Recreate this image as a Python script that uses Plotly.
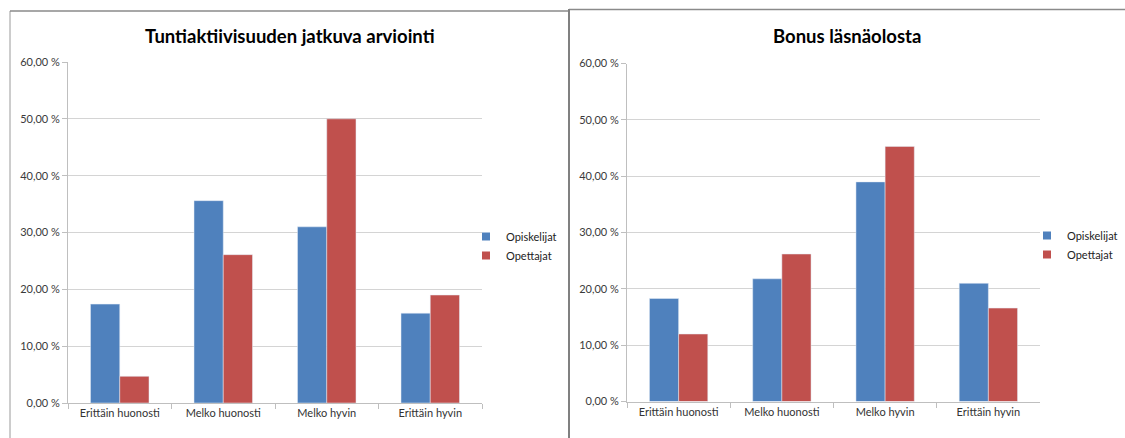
import plotly.graph_objects as go

categories = ["Erittäin huonosti", "Melko huonosti", "Melko hyvin", "Erittäin hyvin"]
series_names = ["Opiskelijat", "Opettajat"]

left_title = "Tuntiaktiivisuuden jatkuva arviointi"
left_opiskelijat = [17.4, 35.6, 31.0, 15.8]
left_opettajat = [4.7, 26.1, 50.0, 19.0]

right_title = "Bonus läsnäolosta"
right_opiskelijat = [18.3, 21.8, 39.0, 21.0]
right_opettajat = [12.0, 26.2, 45.3, 16.6]

tick_values = [0, 10, 20, 30, 40, 50, 60]
tick_labels = ["0,00 %", "10,00 %", "20,00 %", "30,00 %", "40,00 %", "50,00 %", "60,00 %"]

colors = ["#4F81BD", "#C0504D"]
W, H = 1125, 438
FONT = "Lato"

def px(x):
    return x / W

def py(y):
    return 1 - y / H

fig = go.Figure()

# bars (legend entries drawn with small square proxies below)
for i, vals in enumerate([left_opiskelijat, left_opettajat]):
    fig.add_trace(go.Bar(x=categories, y=vals, name=series_names[i], marker_color=colors[i],
                         xaxis="x", yaxis="y", showlegend=False))
for i, vals in enumerate([right_opiskelijat, right_opettajat]):
    fig.add_trace(go.Bar(x=categories, y=vals, name=series_names[i], marker_color=colors[i],
                         xaxis="x2", yaxis="y2", showlegend=False))

# legend proxies
for leg, xa, ya in [("legend", "x", "y"), ("legend2", "x2", "y2")]:
    for i, name in enumerate(series_names):
        fig.add_trace(go.Scatter(x=[None], y=[None], mode="markers", name=name,
                                 marker=dict(symbol="square", size=8, color=colors[i]),
                                 xaxis=xa, yaxis=ya, legend=leg, showlegend=True))

axis_common_x = dict(showgrid=False, showline=True, linecolor="#bfbfbf", linewidth=1,
                     ticks="outside", tickson="boundaries", ticklen=5, tickcolor="#bfbfbf",
                     tickfont=dict(family=FONT, size=11, color="#333333"),
                     fixedrange=True, automargin=False)
axis_common_y = dict(range=[0, 60], tickvals=tick_values, ticktext=tick_labels,
                     showgrid=True, gridcolor="#d4d4d4", gridwidth=1,
                     showline=True, linecolor="#bfbfbf", linewidth=1,
                     ticks="outside", ticklen=5, tickcolor="#bfbfbf",
                     tickfont=dict(family=FONT, size=11, color="#3a3a3a"),
                     zeroline=False, fixedrange=True, automargin=False)

legend_common = dict(font=dict(family=FONT, size=11, color="#222222"),
                     bgcolor="rgba(0,0,0,0)", tracegroupgap=0, itemwidth=30,
                     xanchor="left", yanchor="middle", borderwidth=0)

fig.update_layout(
    width=W, height=H,
    margin=dict(l=0, r=0, t=0, b=0, autoexpand=False),
    paper_bgcolor="white", plot_bgcolor="white",
    barmode="group", bargap=0.435, bargroupgap=0,
    xaxis=dict(domain=[px(68), px(482)], anchor="y", **axis_common_x),
    yaxis=dict(domain=[py(403), py(62)], anchor="x", **axis_common_y),
    xaxis2=dict(domain=[px(627), px(1040)], anchor="y2", **axis_common_x),
    yaxis2=dict(domain=[py(401.6), py(63.6)], anchor="x2", **axis_common_y),
    legend=dict(x=px(466), y=py(246), **legend_common),
    legend2=dict(x=px(1027), y=py(245), **legend_common),
    annotations=[
        dict(text="<b>" + left_title + "</b>", x=px(290), y=py(36), xref="paper", yref="paper",
             showarrow=False, font=dict(family=FONT, size=18.5, color="#000000"),
             xanchor="center", yanchor="middle"),
        dict(text="<b>" + right_title + "</b>", x=px(847), y=py(36), xref="paper", yref="paper",
             showarrow=False, font=dict(family=FONT, size=18.5, color="#000000"),
             xanchor="center", yanchor="middle"),
    ],
    shapes=[
        dict(type="line", xref="paper", yref="paper", x0=px(10), x1=px(10), y0=py(11), y1=-0.05,
             line=dict(color="#9a9a9a", width=1)),
        dict(type="line", xref="paper", yref="paper", x0=px(10), x1=px(569), y0=py(11), y1=py(11),
             line=dict(color="#8a8a8a", width=1.5)),
        dict(type="line", xref="paper", yref="paper", x0=px(569), x1=1.05, y0=py(9.5), y1=py(9.5),
             line=dict(color="#8a8a8a", width=1.5)),
        dict(type="line", xref="paper", yref="paper", x0=px(569), x1=px(569), y0=py(9), y1=-0.05,
             line=dict(color="#808080", width=2)),
    ],
    showlegend=True,
)

fig.write_html("out.html")
